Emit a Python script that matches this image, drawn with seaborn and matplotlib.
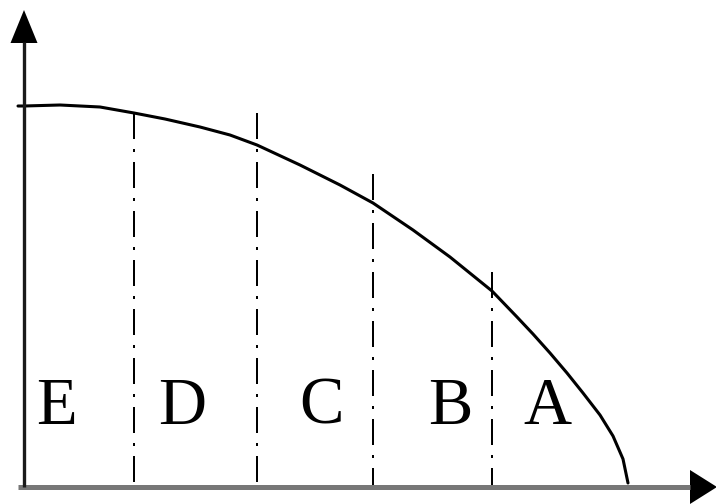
import matplotlib
matplotlib.use("Agg")
import matplotlib.pyplot as plt
import seaborn as sns
import pandas as pd

# frontier curve (x = good 1, y = good 2)
curve_x = [-6, 0, 36, 76, 110, 141, 176, 206, 233, 276, 316, 349, 389, 426, 468,
           493, 509, 526, 543, 559, 576, 589, 599, 604]
curve_y = [381, 381, 382, 380, 374, 368, 360, 352, 342, 322, 302, 284, 257, 230, 196,
           170, 153, 134, 114, 94, 72, 51, 28, 4]

# dash-dot dividers and their top ends
divider_x = [110, 233, 349, 468]
divider_top = [374, 374, 313, 215]

# region labels
labels = ["E", "D", "C", "B", "A"]
label_x = [33, 158, 298, 426, 523]
label_y = 80

sns.set_style("white")

fig = plt.figure(figsize=(7.16, 5.04), dpi=100)
ax = fig.add_axes([0, 0, 1, 1])
ax.set_xlim(-24, 692)
ax.set_ylim(-17, 487)
ax.axis("off")

df = pd.DataFrame({"x": curve_x, "y": curve_y})
sns.lineplot(data=df, x="x", y="y", sort=False, color="black", lw=2.2, ax=ax)

for x, top in zip(divider_x, divider_top):
    ax.plot([x, x], [top, 0], color="black", lw=1.44,
            linestyle=(0, (13, 5, 1.5, 5)), dash_capstyle="butt")

for lab, x in zip(labels, label_x):
    ax.text(x, label_y, lab, fontsize=48, family="Liberation Serif",
            color="black", ha="center", va="center")

# axes with arrow heads
ax.plot([-6, 666], [0, 0], color="#777777", lw=3.6, solid_capstyle="butt")
ax.plot([0, 0], [0, 445], color="#1a1a1a", lw=2.4, solid_capstyle="butt")
ax.fill([0, -13.5, 13.5], [477, 444, 444], color="black", lw=0)
ax.fill([693, 666, 666], [0, 17, -17], color="black", lw=0)

fig.savefig("out.png", dpi=100)
